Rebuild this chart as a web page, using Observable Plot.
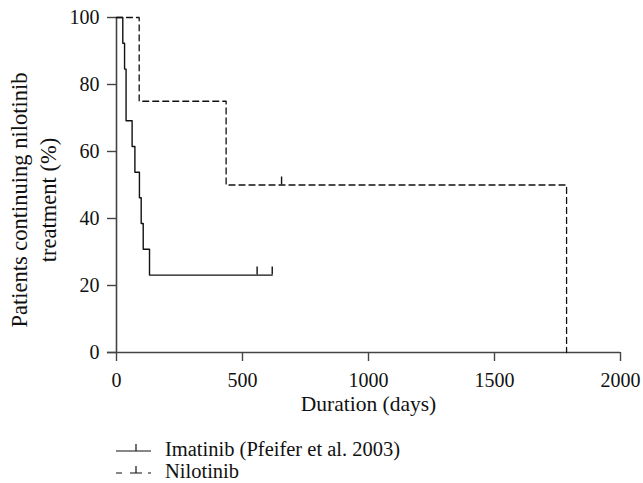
<!DOCTYPE html>
<html>
<head>
<meta charset="utf-8">
<script src="https://cdn.jsdelivr.net/npm/d3@7"></script>
<script src="https://cdn.jsdelivr.net/npm/@observablehq/plot@0.6"></script>
<style>
  html, body { margin: 0; padding: 0; background: #fff; }
  body { width: 643px; height: 483px; overflow: hidden; position: relative; font-family: "Liberation Serif", "DejaVu Serif", serif; }
  #legend { position: absolute; left: 116px; top: 438px; font-size: 20.5px; color: #111; }
  .row { display: flex; align-items: flex-start; height: 22px; line-height: 22px; white-space: nowrap; }
  .row svg { margin-right: 13px; flex: none; }
</style>
</head>
<body>
<div id="chart"></div>
<div id="legend"></div>
<script>
// Imatinib (Pfeifer et al. 2003): Kaplan-Meier steps
const imatinibDays = [0, 25, 32, 38, 62, 73, 91, 98, 106, 131, 618];
const imatinibPct  = [100, 92.3, 84.6, 69.2, 61.5, 53.8, 46.2, 38.5, 30.8, 23.1, 23.1];
const imatinibCensorDays = [558, 618];
const imatinibCensorPct  = [23.1, 23.1];

// Nilotinib
const nilotinibDays = [0, 90, 435, 1786];
const nilotinibPct  = [100, 75, 50, 0];
const nilotinibCensorDays = [655];
const nilotinibCensorPct  = [50];

const xTicks = [0, 500, 1000, 1500, 2000];
const yTicks = [0, 20, 40, 60, 80, 100];
const seriesNames = ["Imatinib (Pfeifer et al. 2003)", "Nilotinib"];
const xLabel = "Duration (days)";
const yLabel = "Patients continuing nilotinib\ntreatment (%)";

const imatinib = imatinibDays.map((d, i) => ({day: d, pct: imatinibPct[i]}));
const nilotinib = nilotinibDays.map((d, i) => ({day: d, pct: nilotinibPct[i]}));
const censors = [
  ...imatinibCensorDays.map((d, i) => ({day: d, pct: imatinibCensorPct[i]})),
  ...nilotinibCensorDays.map((d, i) => ({day: d, pct: nilotinibCensorPct[i]}))
];

const ink = "#111";
const axisInk = "#444";
const fontFam = "'Liberation Serif', 'DejaVu Serif', serif";

const chart = Plot.plot({
  width: 643,
  height: 427,
  marginLeft: 116,
  marginRight: 23,
  marginTop: 17,
  marginBottom: 75,
  style: {fontFamily: fontFam, fontSize: "20px", color: ink, background: "#fff", overflow: "visible"},
  x: {domain: [0, 2000]},
  y: {domain: [0, 100]},
  marks: [
    Plot.axisX({ticks: xTicks, tickFormat: d => String(d), tickSize: 9, tickPadding: 11, label: null, stroke: axisInk, strokeWidth: 1.4, fontSize: 20, fill: ink}),
    Plot.axisY({ticks: yTicks, tickFormat: d => String(d), tickSize: 9, tickPadding: 8, label: null, stroke: axisInk, strokeWidth: 1.4, fontSize: 20, fill: ink}),
    Plot.ruleY([0], {x1: -36, x2: 2000, stroke: axisInk, strokeWidth: 1.6}),
    Plot.ruleX([0], {y1: 0, y2: 100, stroke: axisInk, strokeWidth: 1.6}),
    Plot.line(nilotinib, {x: "day", y: "pct", curve: "step-after", stroke: ink, strokeWidth: 1.3, strokeDasharray: "6,4"}),
    Plot.line(imatinib, {x: "day", y: "pct", curve: "step-after", stroke: ink, strokeWidth: 1.4}),
    Plot.ruleX(censors, {x: "day", y1: "pct", y2: "pct", insetTop: -8, stroke: ink, strokeWidth: 1.4}),
    Plot.text([xLabel], {frameAnchor: "bottom", dy: 58, fontSize: 21.5, fill: ink}),
    Plot.text([yLabel], {frameAnchor: "left", textAnchor: "middle", dx: -84, dy: 15, rotate: -90, lineHeight: 1.3, fontSize: 22.5, fill: ink})
  ]
});
document.getElementById("chart").appendChild(chart);

// Legend
const legend = d3.select("#legend");
seriesNames.forEach((name, i) => {
  const row = legend.append("div").attr("class", "row");
  const svg = row.append("svg").attr("width", 36).attr("height", 22);
  svg.append("line").attr("x1", 0).attr("x2", 35).attr("y1", 13).attr("y2", 13)
    .attr("stroke", ink).attr("stroke-width", 1.2)
    .attr("stroke-dasharray", i === 1 ? "6,8,12,6,4" : null);
  svg.append("line").attr("x1", 20).attr("x2", 20).attr("y1", 13).attr("y2", 6)
    .attr("stroke", ink).attr("stroke-width", 1.2);
  row.append("span").text(name);
});
</script>
</body>
</html>
